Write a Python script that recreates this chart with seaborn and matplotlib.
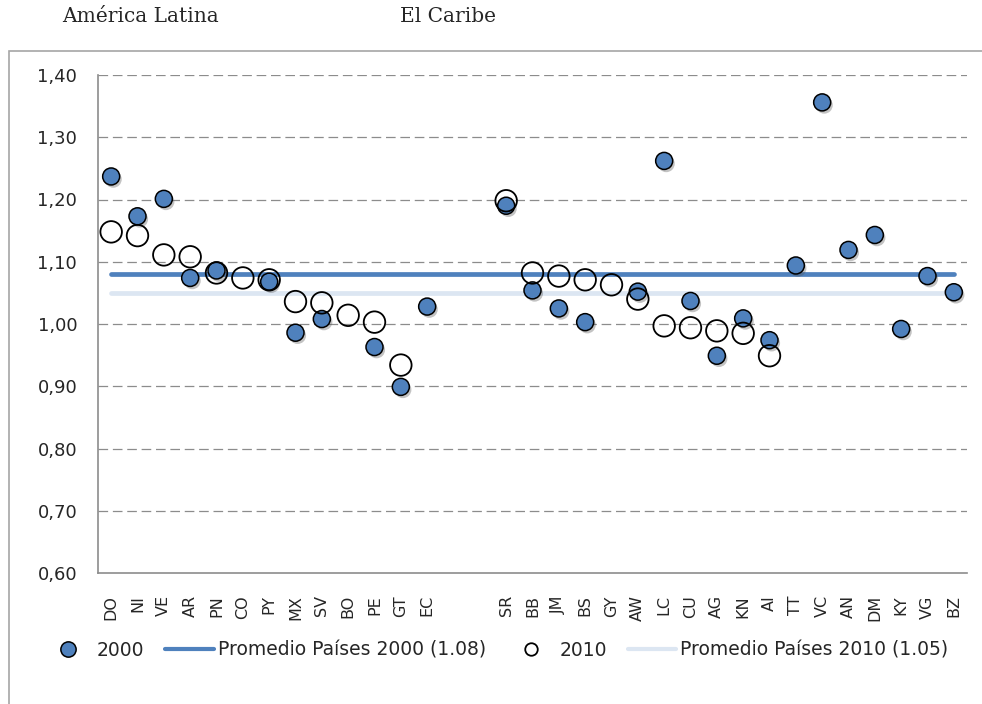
import numpy as np
import pandas as pd
import matplotlib
matplotlib.use("Agg")
import matplotlib.pyplot as plt
import matplotlib.patheffects as pe
from matplotlib.lines import Line2D
from matplotlib.patches import Rectangle
import seaborn as sns

# Country codes per region
latam = ["DO", "NI", "VE", "AR", "PN", "CO", "PY", "MX", "SV", "BO", "PE", "GT", "EC"]
caribe = ["SR", "BB", "JM", "BS", "GY", "AW", "LC", "CU", "AG", "KN", "AI", "TT",
          "VC", "AN", "DM", "KY", "VG", "BZ"]
nan = np.nan

# Index values, 2000 and 2010
latam_2000 = [1.237, 1.173, 1.201, 1.074, 1.086, nan, 1.068, 0.986, 1.008, nan, 0.963, 0.899, 1.028]
latam_2010 = [1.148, 1.142, 1.111, 1.108, 1.082, 1.074, 1.071, 1.036, 1.034, 1.014, 1.003, 0.934, nan]
caribe_2000 = [1.190, 1.054, 1.025, 1.003, nan, 1.052, 1.262, 1.037, 0.949, 1.009, 0.974, 1.094,
               1.356, 1.119, 1.143, 0.992, 1.077, 1.051]
caribe_2010 = [1.198, 1.082, 1.077, 1.071, 1.063, 1.040, 0.997, 0.994, 0.989, 0.985, 0.949,
               nan, nan, nan, nan, nan, nan, nan]

avg_2000 = 1.08
avg_2010 = 1.05

y_ticks = [0.60, 0.70, 0.80, 0.90, 1.00, 1.10, 1.20, 1.30, 1.40]

# Two empty slots separate the two regions on the category axis
categories = latam + ["", ""] + caribe
v2000 = latam_2000 + [nan, nan] + caribe_2000
v2010 = latam_2010 + [nan, nan] + caribe_2010

df = pd.DataFrame({
    "pos": np.arange(len(categories)),
    "cat": categories,
    "v2000": v2000,
    "v2010": v2010,
    "avg2000": avg_2000,
    "avg2010": avg_2010,
})

sns.set_theme(style="white")
plt.rcParams["font.family"] = ["DejaVu Sans"]

W, H = 982, 704
fig = plt.figure(figsize=(W / 100, H / 100), dpi=100)
ax = fig.add_axes([98 / W, 1 - 573 / H, (967 - 98) / W, (573 - 75) / H])

blue = "#4F81BD"
light = "#DCE6F2"
grey = "#8C8C8C"

# average lines
sns.lineplot(data=df, x="pos", y="avg2000", ax=ax, color=blue, lw=3.4,
             solid_capstyle="round", zorder=3)
sns.lineplot(data=df, x="pos", y="avg2010", ax=ax, color=light, lw=3.4,
             solid_capstyle="round", zorder=2)

# 2000 markers (filled, with a soft shadow)
sns.scatterplot(data=df.dropna(subset=["v2000"]), x="pos", y="v2000", ax=ax,
                s=150, color=blue, edgecolor="black", linewidth=1.1, zorder=4)
ax.collections[-1].set_path_effects([
    pe.SimplePatchShadow(offset=(1.5, -2), shadow_rgbFace="#555555", alpha=0.35),
    pe.Normal()])

# 2010 markers (open circles)
sns.scatterplot(data=df.dropna(subset=["v2010"]), x="pos", y="v2010", ax=ax,
                s=240, facecolor="none", edgecolor="black", linewidth=1.3, zorder=5)

ax.set_xlim(-0.5, len(categories) - 0.5)
ax.set_ylim(0.6, 1.4)
ax.set_xlabel("")
ax.set_ylabel("")

# y axis
ax.set_yticks(y_ticks)
ax.set_yticklabels([f"{v:.2f}".replace(".", ",") for v in y_ticks], fontsize=13)
for v in y_ticks[1:]:
    ax.axhline(v, color=grey, lw=0.9, ls=(0, (7.7, 3.8)), zorder=1)

# x axis: tick marks between categories, labels centred
ax.set_xticks(np.arange(-0.5, len(categories), 1.0))
ax.set_xticklabels([])
ax.set_xticks(df["pos"], minor=True)
ax.set_xticklabels(categories, minor=True, rotation=90, fontsize=11.5)
ax.tick_params(axis="x", which="major", direction="out", length=6, width=1, color=grey)
ax.tick_params(axis="x", which="minor", length=0, pad=16)
ax.tick_params(axis="y", direction="out", length=8, width=1, color=grey, pad=7)

for s in ["top", "right"]:
    ax.spines[s].set_visible(False)
for s in ["left", "bottom"]:
    ax.spines[s].set_color(grey)
    ax.spines[s].set_linewidth(1.2)

# chart frame
fig.patches.append(Rectangle((9 / W, -0.2), 1.2, 1 - 51 / H + 0.2,
                             transform=fig.transFigure, fill=False,
                             edgecolor="#A6A6A6", lw=1.2))

# region headings
fig.text(62 / W, 1 - 17 / H, "América Latina", family="DejaVu Serif",
         fontsize=14.5, va="center", ha="left")
fig.text(400 / W, 1 - 17 / H, "El Caribe", family="DejaVu Serif",
         fontsize=14.5, va="center", ha="left")

# legend
handles = [
    Line2D([], [], ls="none", marker="o", markersize=11, markerfacecolor=blue,
           markeredgecolor="black", markeredgewidth=1.1),
    Line2D([], [], color=blue, lw=3),
    Line2D([], [], ls="none", marker="o", markersize=9, markerfacecolor="none",
           markeredgecolor="black", markeredgewidth=1.3),
    Line2D([], [], color=light, lw=3),
]
labels = ["2000", "Promedio Países 2000 (1.08)", "2010", "Promedio Países 2010 (1.05)"]
fig.legend(handles, labels, loc="center left", bbox_to_anchor=(44 / W, 1 - 650 / H),
           ncol=4, frameon=False, fontsize=13.5, handlelength=2.6,
           handletextpad=0.22, columnspacing=1.1, borderpad=0, borderaxespad=0)

fig.savefig("out.png", dpi=100)
